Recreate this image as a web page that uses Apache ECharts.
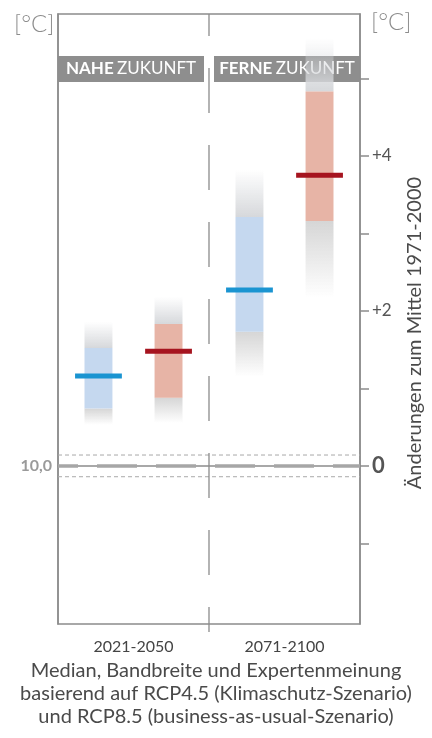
<!DOCTYPE html>
<html><head><meta charset="utf-8">
<script src="https://cdn.jsdelivr.net/npm/echarts@6/dist/echarts.min.js"></script>
<style>html,body{margin:0;padding:0;background:#fff}#c{width:432px;height:738px}</style>
</head><body><div id="c"></div>
<script>
const categories = ['2021-2050', '2071-2100'];
// RCP4.5 (Klimaschutz-Szenario)
const rcp45Low    = [0.53, 1.15];
const rcp45Q1     = [0.74, 1.73];
const rcp45Median = [1.16, 2.27];
const rcp45Q3     = [1.52, 3.21];
const rcp45High   = [1.86, 3.82];
// RCP8.5 (business-as-usual-Szenario)
const rcp85Low    = [0.55, 2.17];
const rcp85Q1     = [0.88, 3.16];
const rcp85Median = [1.48, 3.75];
const rcp85Q3     = [1.83, 4.83];
const rcp85High   = [2.18, 5.52];
// axis
const yMin = -2.04, yMax = 5.83;
const tickValues = [-1, 0, 1, 2, 3, 4, 5];
const labelValues = [0, 2, 4];
const baseLine = 0;
const refBand = [-0.14, 0.14];

const FONT = 'Lato';
const chart = echarts.init(document.getElementById('c'));

function rows(low, q1, med, q3, high) {
  return categories.map((c, i) => [i, low[i], q1[i], med[i], q3[i], high[i]]);
}
function makeRender(offsetFrac, boxColor, medColor) {
  return function (params, api) {
    const cat = api.value(0);
    const band = api.size([1, 0])[0];
    const cx = api.coord([cat, 0])[0] + offsetFrac * band;
    const bw = band * 0.185, mw = band * 0.31;
    const yLow = api.coord([cat, api.value(1)])[1];
    const yQ1 = api.coord([cat, api.value(2)])[1];
    const yMed = api.coord([cat, api.value(3)])[1];
    const yQ3 = api.coord([cat, api.value(4)])[1];
    const yHigh = api.coord([cat, api.value(5)])[1];
    const G = echarts.graphic.LinearGradient;
    return {
      type: 'group', children: [
        { type: 'rect', shape: { x: cx - bw / 2, y: yHigh, width: bw, height: yQ3 - yHigh },
          style: { fill: new G(0, 0, 0, 1, [{ offset: 0, color: 'rgba(214,216,220,0)' }, { offset: 1, color: '#d6d8db' }]) } },
        { type: 'rect', shape: { x: cx - bw / 2, y: yQ1, width: bw, height: yLow - yQ1 },
          style: { fill: new G(0, 0, 0, 1, [{ offset: 0, color: '#d6d6d6' }, { offset: 1, color: 'rgba(214,214,214,0)' }]) } },
        { type: 'rect', shape: { x: cx - bw / 2, y: yQ3, width: bw, height: yQ1 - yQ3 },
          style: { fill: boxColor } },
        { type: 'rect', shape: { x: cx - mw / 2, y: yMed - 2.5, width: mw, height: 5 },
          style: { fill: medColor } }
      ]
    };
  };
}

chart.setOption({
  animation: false,
  grid: { left: 58, right: 72, top: 14, bottom: 114, show: true, borderColor: '#8c8c8c', borderWidth: 1.5, backgroundColor: 'transparent' },
  xAxis: {
    type: 'category', data: categories,
    axisLine: { show: true, lineStyle: { color: '#8c8c8c', width: 1.5 } },
    axisTick: { show: false },
    axisLabel: { fontFamily: FONT, fontSize: 16, color: '#444', margin: 15 },
    splitLine: { show: false }
  },
  yAxis: [
    {
      type: 'value', position: 'right', min: yMin, max: yMax,
      axisLine: { show: true, lineStyle: { color: '#8c8c8c', width: 1.5 } },
      axisTick: { show: true, length: 9, customValues: tickValues, lineStyle: { color: '#8c8c8c', width: 1.5 } },
      axisLabel: {
        customValues: labelValues, margin: 12,
        formatter: v => v === 0 ? '{b|0}' : '{n|+' + v + '}',
        rich: {
          b: { fontFamily: FONT, fontSize: 22, fontWeight: 'bold', color: '#555' },
          n: { fontFamily: FONT, fontSize: 17, color: '#555' }
        }
      },
      splitLine: { show: false }
    },
    {
      type: 'value', position: 'left', min: yMin, max: yMax,
      axisLine: { show: true, lineStyle: { color: '#8c8c8c', width: 1.5 } },
      axisTick: { show: false },
      axisLabel: { customValues: [0], formatter: v => v === 0 ? '10,0' : '', fontFamily: FONT, fontSize: 16, fontWeight: 'bold', color: '#9a9a9a', margin: 6 },
      splitLine: { show: false }
    }
  ],
  series: [
    {
      type: 'custom', name: 'reference', yAxisIndex: 0, data: [[0]], silent: true, z: 1,
      renderItem: function (params, api) {
        const cs = params.coordSys;
        const x = cs.x + cs.width / 2;
        const y0 = api.coord([0, baseLine])[1];
        const yA = api.coord([0, refBand[0]])[1];
        const yB = api.coord([0, refBand[1]])[1];
        const x1 = cs.x, x2 = cs.x + cs.width;
        return { type: 'group', children: [
          { type: 'line', shape: { x1: x1, y1: yA, x2: x2, y2: yA },
            style: { stroke: '#a9a9a9', lineWidth: 1, lineDash: [4, 3] } },
          { type: 'line', shape: { x1: x1, y1: yB, x2: x2, y2: yB },
            style: { stroke: '#a9a9a9', lineWidth: 1, lineDash: [4, 3] } },
          { type: 'line', shape: { x1: x1, y1: y0, x2: x2, y2: y0 },
            style: { stroke: '#a6a6a6', lineWidth: 3.5, lineDash: [40, 19], lineDashOffset: 20 } },
          { type: 'line', shape: { x1: x, y1: cs.y, x2: x, y2: cs.y + cs.height + 8 },
            style: { stroke: '#8c8c8c', lineWidth: 1.3, lineDash: [45, 32], lineDashOffset: 23 } }
        ] };
      }
    },
    { type: 'custom', name: 'RCP4.5', yAxisIndex: 0, z: 3,
      data: rows(rcp45Low, rcp45Q1, rcp45Median, rcp45Q3, rcp45High),
      renderItem: makeRender(-0.232, '#c5d8ef', '#1a94d1') },
    { type: 'custom', name: 'RCP8.5', yAxisIndex: 0, z: 3,
      data: rows(rcp85Low, rcp85Q1, rcp85Median, rcp85Q3, rcp85High),
      renderItem: makeRender(0.232, '#e7b4a6', '#a6141f') }
  ],
  graphic: [
    { type: 'text', left: 14, top: 12, style: { text: '[°C]', font: '300 24px ' + FONT, fill: '#8c8c8c' } },
    { type: 'text', left: 371, top: 10, style: { text: '[°C]', font: '300 24px ' + FONT, fill: '#8c8c8c' } },
    { type: 'group', left: 58, top: 56, z: 100, children: [
      { type: 'rect', shape: { x: 0, y: 0, width: 146, height: 26 }, style: { fill: '#8e8e8e' } },
      { type: 'text', x: 73, y: 13, style: { text: '{b|NAHE} {n|ZUKUNFT}', align: 'center', verticalAlign: 'middle',
        rich: { b: { font: 'bold 17px ' + FONT, fill: '#fff' }, n: { font: '17px ' + FONT, fill: '#fff' } } } }
    ] },
    { type: 'group', left: 214, top: 56, z: 100, children: [
      { type: 'rect', shape: { x: 0, y: 0, width: 146, height: 26 }, style: { fill: '#8e8e8e' } },
      { type: 'text', x: 73, y: 13, style: { text: '{b|FERNE} {n|ZUKUNFT}', align: 'center', verticalAlign: 'middle',
        rich: { b: { font: 'bold 17px ' + FONT, fill: '#fff' }, n: { font: '17px ' + FONT, fill: '#fff' } } } }
    ] },
    { type: 'text', x: 415, y: 333, rotation: Math.PI / 2, z: 100,
      style: { text: 'Änderungen zum Mittel 1971-2000', align: 'center', verticalAlign: 'middle', font: '20px ' + FONT, fill: '#4a4a4a' } },
    { type: 'text', x: 216, y: 671, style: { text: 'Median, Bandbreite und Expertenmeinung', align: 'center', verticalAlign: 'middle', font: '20px ' + FONT, fill: '#4a4a4a' } },
    { type: 'text', x: 216, y: 694, style: { text: 'basierend auf RCP4.5 (Klimaschutz-Szenario)', align: 'center', verticalAlign: 'middle', font: '20px ' + FONT, fill: '#4a4a4a' } },
    { type: 'text', x: 216, y: 717, style: { text: 'und RCP8.5 (business-as-usual-Szenario)', align: 'center', verticalAlign: 'middle', font: '20px ' + FONT, fill: '#4a4a4a' } }
  ]
});
</script></body></html>
